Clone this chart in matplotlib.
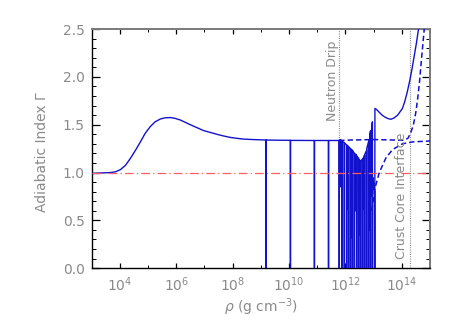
import numpy as np
import matplotlib
matplotlib.use('Agg')
import matplotlib.pyplot as plt
from matplotlib.ticker import FixedLocator, FixedFormatter, MultipleLocator

# ---------------- data (log10 of density, adiabatic index) ----------------
solid_logrho = [
    3.00, 3.30, 3.67, 3.85, 4.02, 4.20, 4.38, 4.55, 4.73, 4.90, 5.08, 5.25, 5.44, 5.60,
    5.79, 5.95, 6.14, 6.32, 6.50, 6.73, 6.96, 7.20, 7.44, 7.67, 7.90, 8.14, 8.38, 8.70,
    9.00, 9.185, 9.19, 9.195, 9.60, 10.045, 10.05, 10.055, 10.50, 10.895, 10.90, 10.905,
    11.395, 11.40, 11.405, 11.775, 11.78, 11.785,
    11.83, 11.835, 11.84, 11.875, 11.88, 11.885,
    11.955, 11.96, 11.965, 12.035, 12.04, 12.045,
    12.07, 12.075, 12.08, 12.105, 12.11, 12.115,
    12.175, 12.18, 12.185, 12.21, 12.215, 12.22, 12.245, 12.25, 12.255,
    12.315, 12.32, 12.325, 12.355, 12.36, 12.365,
    12.395, 12.40, 12.405, 12.465, 12.47, 12.475,
    12.50, 12.505, 12.51, 12.535, 12.54, 12.545,
    12.605, 12.61, 12.615, 12.64, 12.645, 12.65, 12.675, 12.68, 12.685,
    12.745, 12.75, 12.755,
    12.815, 12.82, 12.825, 12.85, 12.855, 12.86, 12.885, 12.89, 12.895,
    12.92, 12.925, 12.93, 12.955, 12.96, 12.965, 12.99, 13.00, 13.02, 13.035,
    13.04, 13.045,
    13.10, 13.20, 13.30, 13.40, 13.50, 13.61, 13.72, 13.85, 14.02, 14.10, 14.19,
    14.28, 14.37, 14.45, 14.52, 14.59, 14.65]
solid_gamma = [
    0.99, 0.995, 1.00, 1.008, 1.03, 1.075, 1.15, 1.23, 1.32, 1.41, 1.48, 1.53, 1.56, 1.572,
    1.575, 1.567, 1.55, 1.525, 1.50, 1.47, 1.44, 1.42, 1.40, 1.383, 1.368, 1.358, 1.35, 1.345,
    1.342, 1.34, 0.0, 1.34, 1.338, 1.337, 0.0, 1.336, 1.336, 1.335, 0.0, 1.335,
    1.335, 0.0, 1.335, 1.335, 0.0, 1.34,
    1.34, 0.85, 1.34, 1.33, 0.0, 1.33,
    1.31, 0.0, 1.31, 1.29, 0.0, 1.29,
    1.25, 0.62, 1.28, 1.27, 0.0, 1.27,
    1.25, 0.0, 1.25, 1.20, 0.32, 1.24, 1.23, 0.0, 1.23,
    1.20, 0.0, 1.20, 1.14, 0.60, 1.19,
    1.18, 0.0, 1.17, 1.15, 0.0, 1.14,
    1.06, 0.35, 1.13, 1.12, 0.0, 1.12,
    1.14, 0.0, 1.15, 1.08, 0.62, 1.16, 1.18, 0.0, 1.19,
    1.23, 0.0, 1.25,
    1.32, 0.0, 1.34, 1.20, 0.40, 1.38, 1.43, 0.0, 1.44,
    1.30, 0.75, 1.48, 1.53, 0.0, 0.95, 0.90, 0.85, 0.82, 0.80,
    0.0, 1.67,
    1.66, 1.63, 1.60, 1.58, 1.565, 1.557, 1.57, 1.60, 1.67, 1.74, 1.84,
    1.96, 2.10, 2.24, 2.36, 2.50, 2.62]

dashA_logrho = [11.78, 12.20, 12.60, 12.95, 13.30, 13.70, 14.00, 14.10, 14.22, 14.32,
                14.41, 14.49, 14.56, 14.63, 14.70, 14.75, 14.80, 14.83]
dashA_gamma = [1.335, 1.34, 1.342, 1.345, 1.343, 1.34, 1.337, 1.34, 1.36, 1.42,
               1.50, 1.62, 1.77, 1.96, 2.20, 2.36, 2.52, 2.62]

dashB_logrho = [12.93, 13.05, 13.20, 13.43, 13.67, 14.02, 14.37, 15.00]
dashB_gamma = [0.60, 0.84, 1.00, 1.15, 1.24, 1.30, 1.32, 1.33]

neutron_drip_logrho = 11.78
crust_core_logrho = 14.28
reference_gamma = 1.0

xtick_exponents = [4, 6, 8, 10, 12, 14]
xtick_labels = [r'$10^{%d}$' % e for e in xtick_exponents]
xminor_exponents = [3, 5, 7, 9, 11, 13, 15]
ytick_values = [0.0, 0.5, 1.0, 1.5, 2.0, 2.5]
ytick_labels = ['0.0', '0.5', '1.0', '1.5', '2.0', '2.5']

# ---------------- plotting ----------------
plt.rcParams['mathtext.default'] = 'regular'
blue = '#1212cc'
grey_txt = '#8a8a8a'

fig = plt.figure(figsize=(4.58, 3.27), dpi=100)
ax = fig.add_axes([0.200, 0.180, 0.739, 0.731])
ax.set_xscale('log')

rho = lambda v: np.power(10.0, np.asarray(v, dtype=float))

ax.axhline(reference_gamma, color='#ff6060', lw=0.9, ls=(0, (7, 2.5, 1, 2.5)), zorder=4)
for v in (neutron_drip_logrho, crust_core_logrho):
    ax.axvline(rho(v), color='#8c8c8c', lw=0.9, ls=(0, (0.8, 1.0)), zorder=1)

ax.plot(rho(solid_logrho), solid_gamma, color=blue, lw=1.0, zorder=3)
ax.plot(rho(dashA_logrho), dashA_gamma, color=blue, lw=1.1, ls=(0, (3.5, 2)), zorder=3)
ax.plot(rho(dashB_logrho), dashB_gamma, color=blue, lw=1.1, ls=(0, (3.5, 2)), zorder=3)

ax.set_xlim(1e3, 1e15)
ax.set_ylim(0, 2.5)

ax.xaxis.set_major_locator(FixedLocator(rho(xtick_exponents)))
ax.xaxis.set_major_formatter(FixedFormatter(xtick_labels))
ax.xaxis.set_minor_locator(FixedLocator(rho(xminor_exponents)))
ax.xaxis.set_minor_formatter(FixedFormatter([''] * len(xminor_exponents)))
ax.yaxis.set_major_locator(FixedLocator(ytick_values))
ax.yaxis.set_major_formatter(FixedFormatter(ytick_labels))
ax.yaxis.set_minor_locator(MultipleLocator(0.1))

ax.tick_params(which='both', direction='in', top=True, right=True, color='black',
               labelcolor=grey_txt, labelsize=10)
ax.tick_params(axis='y', which='major', length=5.5, width=0.9, pad=5)
ax.tick_params(axis='y', which='minor', length=3, width=0.7)
ax.tick_params(axis='x', which='major', length=3.5, width=0.9, pad=5)
ax.tick_params(axis='x', which='minor', length=2.5, width=0.7)

for s in ('left', 'bottom'):
    ax.spines[s].set_color('black')
    ax.spines[s].set_linewidth(1.0)
for s in ('top', 'right'):
    ax.spines[s].set_color('#7a7a7a')
    ax.spines[s].set_linewidth(1.4)

ax.set_ylabel('Adiabatic Index Γ', color=grey_txt, fontsize=10)
ax.set_xlabel(r'$\it{\rho}$ (g cm$^{-3}$)', color=grey_txt, fontsize=10)
ax.yaxis.set_label_coords(-0.125, 0.487)
ax.xaxis.set_label_coords(0.5, -0.118)

ax.text(rho(neutron_drip_logrho - 0.02), 2.38, 'Neutron Drip', rotation=90,
        ha='right', va='top', color=grey_txt, fontsize=9)
ax.text(rho(crust_core_logrho - 0.05), 0.10, 'Crust Core Interface', rotation=90,
        ha='right', va='bottom', color=grey_txt, fontsize=9)

fig.savefig('out.png', dpi=100)
